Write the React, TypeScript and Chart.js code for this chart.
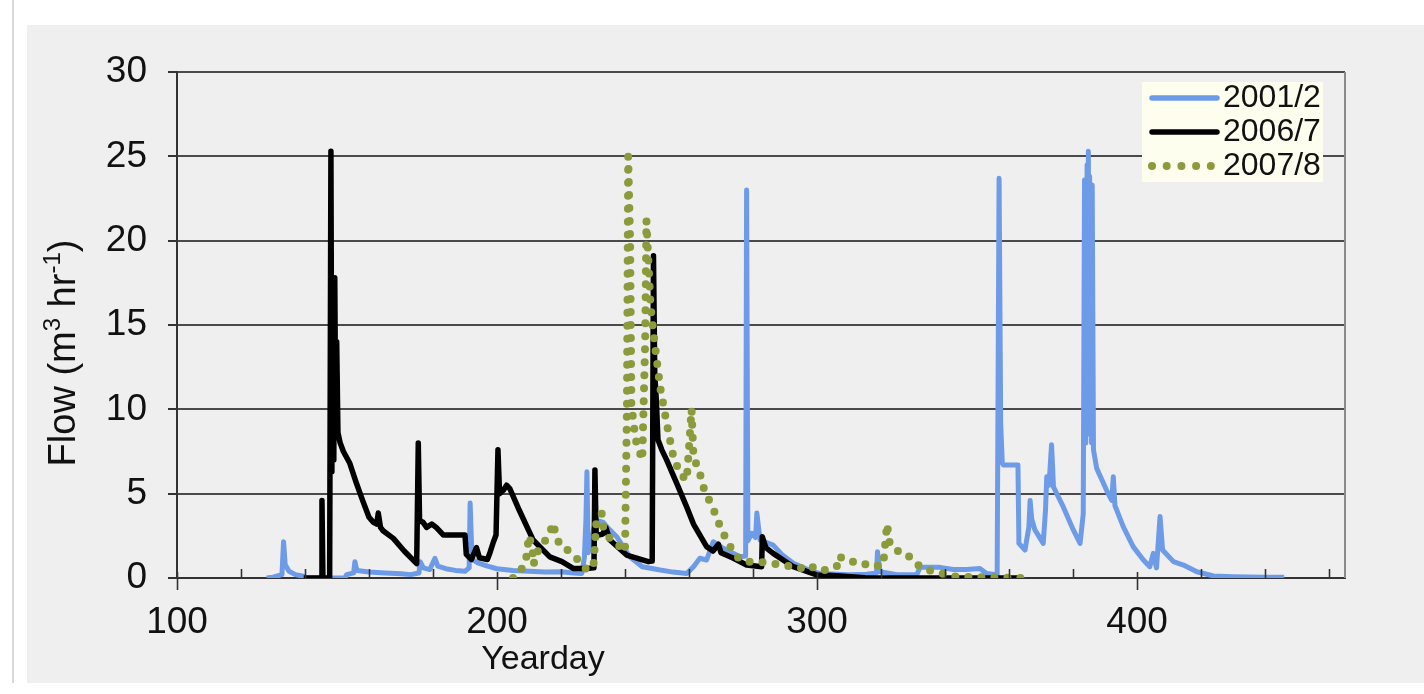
import React, { useEffect, useRef } from "react";
import { Chart, registerables } from "chart.js";

Chart.register(...registerables);

// ---------- data ----------
const seriesLabels = ["2001/2", "2006/7", "2007/8"];

const blueDays = [128,130,132.8,133.3,133.8,135,137,139.5,140.5,152.5,153,155.2,155.6,156.2,160,165,170,173,175.6,176,177,179,180.6,181.5,184,187,190,191.3,191.6,192.2,194,197,200,205,210,215,220,224,226.5,227.3,227.8,228.1,228.5,229.5,230.2,231.5,233.2,235,237.4,241.5,245.4,251,255,259.3,261.4,263.4,265.5,267.6,270.7,275.9,277.7,278,278.4,279.6,280.8,281.2,282.2,286.3,289,292.6,298.8,301,310,315.5,318.6,318.9,319.7,325,331.2,332.2,338.4,342.6,346.7,350.9,353,356.3,356.9,357.4,357.9,358.3,362.8,363.1,365,366.2,366.6,367.1,368.1,370.7,371.4,371.8,372.5,373.3,373.9,377,380.1,382.2,383.2,383.6,383.8,384.0,384.2,384.4,384.6,384.8,385.0,385.2,385.4,385.6,385.8,386.0,386.4,387.4,390.5,392.1,392.6,393.1,395.7,398.8,402,404,405.1,406.1,407.2,408,411.4,414.5,418.7,423.9,430,440,446];
const blueFlow = [0,0.05,0.2,2.15,0.8,0.4,0.2,0.1,0,0,0.2,0.3,0.97,0.45,0.35,0.3,0.25,0.2,0.3,0.97,0.6,0.5,1.17,0.7,0.55,0.45,0.4,0.6,4.45,1.1,0.9,0.7,0.55,0.45,0.4,0.35,0.37,0.3,0.27,1.2,3.5,6.3,1.5,2.0,2.9,3.4,3.3,2.9,2.45,1.26,0.67,0.47,0.35,0.27,0.67,1.17,1.07,2.15,1.76,1.26,1.3,23.0,2.2,2.65,2.4,3.85,2.25,1.95,1.4,0.87,0.37,0.27,0.2,0.22,0.3,1.56,0.37,0.2,0.2,0.63,0.63,0.5,0.5,0.57,0.27,0.2,23.7,9.2,6.8,6.7,6.7,2.05,1.66,3.0,4.6,3.5,2.85,2.05,4.0,6.0,5.5,7.9,5.4,4.2,2.85,2.05,3.8,23.6,8.0,23.5,10.0,24.5,9.0,25.3,9.5,23.8,8.5,23.3,8.0,23.3,7.6,6.5,5.2,4.6,6.0,4.3,3.05,1.86,1.07,0.67,1.46,0.6,3.65,1.66,0.97,0.77,0.37,0.12,0.08,0.05,0.05];

const blackDays = [139.6,145.0,145.3,145.6,147.7,148.1,148.4,148.7,149.0,149.3,149.6,149.9,150.3,151,152,154,156.1,158,160,161.4,162.4,162.9,163.6,164.4,167.6,171,174.9,175.4,175.8,176.9,178,179.6,181,183.2,190.0,190.4,192,193.6,194.5,197,197.8,198.9,199.7,200.3,200.8,202,203,204,207,211.3,216.5,220.3,223.8,228,230.3,230.6,231.0,231.7,233,234,235.3,240.5,247.3,248.5,248.9,249.3,249.8,250.3,251.5,253,256.2,259.3,261.4,265.5,267.5,269.2,270,273.9,278,282.7,282.9,284,286.3,292.6,299.9,305,315,363];
const blackFlow = [0,0,4.6,0,0,25.3,6.3,17.5,7.0,17.8,9.0,14.0,8.6,8.0,7.5,6.8,5.6,4.6,3.6,3.3,3.2,3.85,3.0,2.8,2.35,1.6,0.85,8.0,3.4,3.3,3.0,3.2,3.0,2.55,2.55,1.4,1.1,1.8,1.2,1.1,1.5,2.15,2.55,7.6,5.0,5.2,5.5,5.3,4.0,2.25,1.25,0.97,0.57,0.57,0.6,6.4,2.5,2.55,2.6,3.0,2.25,1.36,0.97,1.0,19.1,12.1,10.5,8.2,7.6,7.0,5.6,4.2,3.2,1.86,1.6,2.0,1.5,1.17,0.77,0.67,2.45,1.8,1.46,0.67,0.18,0.15,0.02,0];

const greenDays = [205,207,209,210,211,211.5,212,213.4,215,216.5,217.6,218.5,220.2,222,225.4,227.5,230.1,231,232.7,233.3,235.3,237.9,240,240.6,241.0,241.6,242.0,242.5,243.3,245.4,246.3,246.7,248,249.4,251,253,255.1,257.2,259.3,260.8,261.4,263.4,264.8,267.6,269.2,270.7,272.3,274.4,277,281.2,285.3,289.5,294.7,297.8,299.9,303,306.2,306.7,309.8,313.4,316.6,320.7,321.9,322.6,324.1,327.7,330.3,332.9,336.6,340.2,343.3,365];
const greenFlow = [0,0.3,1.0,2.5,1.8,0.8,1.5,1.66,2.2,2.7,3.25,2.4,1.8,1.66,1.07,0.57,0.57,3.2,3.85,2.85,2.35,1.95,1.56,10,25.0,20,10.2,9.5,8.2,7.0,14,21.2,16.1,13.7,11.3,9.2,7.2,6.2,5.8,10.0,7.2,6.2,5.2,4.1,3.3,2.65,2.05,1.36,0.97,0.97,0.87,0.77,0.57,0.77,0.47,0.47,0.7,1.3,0.97,0.97,0.67,0.77,3.2,2.15,1.66,1.5,0.97,0.57,0.37,0.22,0.08,0];

const xMin = 100;
const xMax = 465;
const xLabelTicks = [100, 200, 300, 400];
const yMin = 0;
const yMax = 30;
const yStep = 5;

const xTitle = "Yearday";
const yTitleParts = [
  { t: "Flow (m", sup: false },
  { t: "3", sup: true },
  { t: " hr", sup: false },
  { t: "-1", sup: true },
  { t: ")", sup: false },
];

// ---------- styles ----------
const BLUE = "#6e9be7";
const BLACK = "#000000";
const GREEN = "#8b9b3b";
const GRID = "#4a4a4a";
const FONT = "'Liberation Sans', Arial, sans-serif";

const toPoints = (d: number[], f: number[]) => d.map((x, i) => ({ x, y: f[i] }));

const xTicksPlugin = {
  id: "xTicksPlugin",
  afterDatasetsDraw(chart: any) {
    const { ctx, chartArea } = chart;
    const xs = chart.scales.x;
    ctx.save();
    ctx.strokeStyle = "#333";
    ctx.lineWidth = 1.6;
    for (let v = xMin; v <= xMax; v += 20) {
      const px = Math.round(xs.getPixelForValue(v)) + 0.5;
      const major = v % 100 === 0;
      ctx.beginPath();
      ctx.moveTo(px, chartArea.bottom - (major ? 6 : 9));
      ctx.lineTo(px, chartArea.bottom + (major ? 12 : 0));
      ctx.stroke();
    }
    ctx.strokeStyle = "#8a8a8a";
    ctx.lineWidth = 2;
    ctx.beginPath();
    ctx.moveTo(chartArea.right, chartArea.top);
    ctx.lineTo(chartArea.right, chartArea.bottom);
    ctx.stroke();
    ctx.restore();
  },
};

const titlesPlugin = {
  id: "titlesPlugin",
  afterDraw(chart: any) {
    const { ctx, chartArea } = chart;
    ctx.save();
    ctx.fillStyle = "#111";
    ctx.textBaseline = "middle";
    ctx.font = `34px ${FONT}`;
    ctx.textAlign = "center";
    ctx.fillText(xTitle, chartArea.left + 366, chartArea.bottom + 82);
    const mainFont = `38px ${FONT}`;
    const supFont = `24px ${FONT}`;
    let total = 0;
    const widths = yTitleParts.map((p) => {
      ctx.font = p.sup ? supFont : mainFont;
      const w = ctx.measureText(p.t).width;
      total += w;
      return w;
    });
    ctx.translate(chartArea.left - 112, chartArea.top + 281);
    ctx.rotate(-Math.PI / 2);
    ctx.textAlign = "left";
    let x = -total / 2;
    yTitleParts.forEach((p, i) => {
      ctx.font = p.sup ? supFont : mainFont;
      ctx.fillText(p.t, x, p.sup ? -12 : 0);
      x += widths[i];
    });
    ctx.restore();
  },
};

const legendPlugin = {
  id: "customLegend",
  afterDraw(chart: any) {
    const { ctx, chartArea } = chart;
    const bx = chartArea.right - 203;
    const by = chartArea.top + 10;
    ctx.save();
    ctx.fillStyle = "#fefeee";
    ctx.fillRect(bx, by, 181, 100);
    const rows = [16, 50, 84];
    chart.data.datasets.forEach((ds: any, i: number) => {
      const y = by + rows[i];
      ctx.save();
      ctx.strokeStyle = ds.borderColor;
      ctx.lineWidth = ds.borderDash ? ds.borderWidth : 5.5;
      ctx.lineCap = "round";
      ctx.beginPath();
      if (ds.borderDash && ds.borderDash.length) {
        ctx.setLineDash([0, 14.7]);
        ctx.moveTo(bx + 10, y);
        ctx.lineTo(bx + 70, y);
      } else {
        ctx.moveTo(bx + 10, y);
        ctx.lineTo(bx + 75, y);
      }
      ctx.stroke();
      ctx.restore();
      ctx.fillStyle = "#111";
      ctx.font = `32px ${FONT}`;
      ctx.textBaseline = "middle";
      ctx.textAlign = "left";
      ctx.fillText(ds.label, bx + 81, y);
    });
    ctx.restore();
  },
};

export default function App() {
  const canvasRef = useRef<HTMLCanvasElement | null>(null);

  useEffect(() => {
    if (!canvasRef.current) return;
    const chart = new Chart(canvasRef.current, {
      type: "line",
      data: {
        datasets: [
          {
            label: seriesLabels[0],
            data: toPoints(blueDays, blueFlow),
            borderColor: BLUE,
            borderWidth: 5,
            pointRadius: 0,
            tension: 0,
            order: 3,
            borderJoinStyle: "round",
          },
          {
            label: seriesLabels[1],
            data: toPoints(blackDays, blackFlow),
            borderColor: BLACK,
            borderWidth: 5.5,
            pointRadius: 0,
            tension: 0,
            order: 2,
            borderJoinStyle: "round",
          },
          {
            label: seriesLabels[2],
            data: toPoints(greenDays, greenFlow),
            borderColor: GREEN,
            borderWidth: 8,
            borderDash: [0, 13],
            borderCapStyle: "round",
            pointRadius: 0,
            tension: 0,
            order: 1,
          },
        ] as any,
      },
      options: {
        animation: false,
        responsive: false,
        maintainAspectRatio: false,
        layout: { padding: { top: 47, right: 79, left: 0, bottom: 0 } },
        plugins: {
          legend: { display: false },
          tooltip: { enabled: false },
          title: { display: false },
        },
        scales: {
          x: {
            type: "linear",
            min: xMin,
            max: xMax,
            afterBuildTicks: (s: any) => {
              s.ticks = xLabelTicks.map((v) => ({ value: v }));
            },
            afterFit: (s: any) => {
              s.height = 105;
            },
            grid: { display: false, drawTicks: false },
            border: { display: true, color: "#333", width: 2 },
            ticks: {
              autoSkip: false,
              maxRotation: 0,
              padding: 23,
              color: "#111",
              font: { family: FONT, size: 37 },
              callback: (v: any) => String(v),
            },
          },
          y: {
            type: "linear",
            min: yMin,
            max: yMax,
            afterFit: (s: any) => {
              s.width = 150;
            },
            grid: {
              color: GRID,
              lineWidth: 2,
              drawTicks: true,
              tickLength: 9,
              tickColor: "#333",
            },
            border: { display: true, color: "#333", width: 2 },
            ticks: {
              stepSize: yStep,
              padding: 21,
              color: "#111",
              font: { family: FONT, size: 37 },
            },
          },
        },
      },
      plugins: [xTicksPlugin, titlesPlugin, legendPlugin],
    });
    return () => chart.destroy();
  }, []);

  return (
    <div
      style={{
        position: "absolute",
        left: 0,
        top: 0,
        width: 1424,
        height: 694,
        background: "#ffffff",
        overflow: "hidden",
      }}
    >
      <div
        style={{
          position: "absolute",
          left: 12,
          top: 0,
          width: 2,
          height: 683,
          background: "#d9d9d9",
        }}
      />
      <div
        style={{
          position: "absolute",
          left: 27,
          top: 25,
          width: 1397,
          height: 658,
          background: "#efefef",
        }}
      >
        <canvas ref={canvasRef} width={1397} height={658} style={{ display: "block" }} />
      </div>
    </div>
  );
}
